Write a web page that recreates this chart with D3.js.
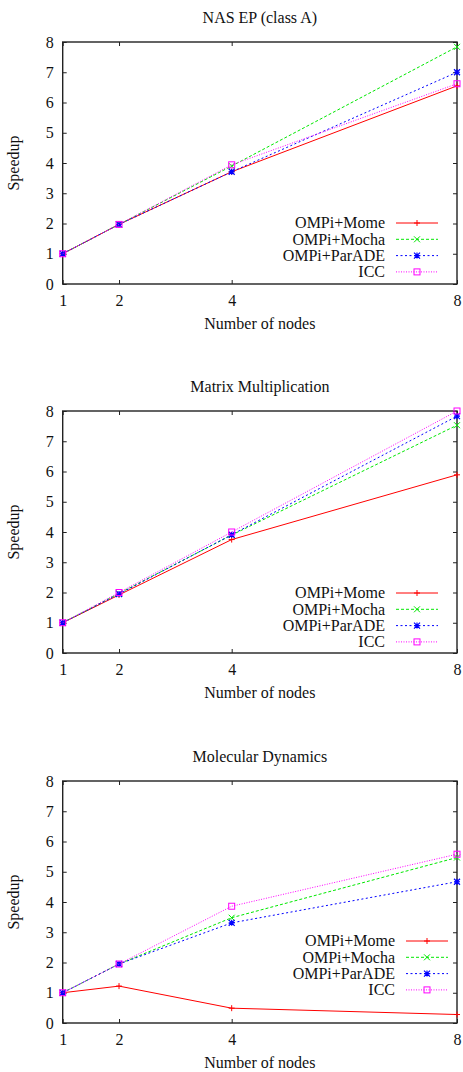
<!DOCTYPE html>
<html>
<head>
<meta charset="utf-8">
<script src="https://cdn.jsdelivr.net/npm/d3@7"></script>
<style>
  body { margin: 0; background: #fff; }
  svg text { font-family: "Liberation Serif", "Times New Roman", serif !important; fill: #111; }
</style>
</head>
<body>
<svg id="chart" width="463" height="1072"></svg>
<script>
// Données
const nodes = [1, 2, 4, 8];
const yTicks = [0, 1, 2, 3, 4, 5, 6, 7, 8];
const seriesNames = ["OMPi+Mome", "OMPi+Mocha", "OMPi+ParADE", "ICC"];
const titles = ["NAS EP (class A)", "Matrix Multiplication", "Molecular Dynamics"];

const epMome = [1, 1.97, 3.71, 6.55];
const epMocha = [1, 1.97, 3.9, 7.84];
const epParade = [1, 1.97, 3.71, 7.0];
const epIcc = [1, 1.97, 3.94, 6.62];

const mmMome = [1, 1.92, 3.75, 5.89];
const mmMocha = [1, 1.97, 3.9, 7.53];
const mmParade = [1, 1.95, 3.91, 7.83];
const mmIcc = [1, 2.0, 4.0, 8.0];

const mdMome = [1, 1.22, 0.49, 0.28];
const mdMocha = [1, 1.95, 3.48, 5.47];
const mdParade = [1, 1.95, 3.31, 4.67];
const mdIcc = [1, 1.95, 3.86, 5.58];

const panelsData = [
    [epMome, epMocha, epParade, epIcc],
    [mmMome, mmMocha, mmParade, mmIcc],
    [mdMome, mdMocha, mdParade, mdIcc]
];

// Styles des courbes (façon gnuplot)
const couleurs = ["#ff0000", "#00e800", "#0000ff", "#ff00ff"];
const tirets = [null, "3,2", "2,2.5", "1,1.5"];
const marqueurs = ["plus", "cross", "star", "square"];

const svg = d3.select("#chart")
    .attr("font-family", "Liberation Serif, Times New Roman, serif");

const left = 62.7, right = 457, plotH = 242;
const panelTops = [42, 411, 781];
// position de la légende dans chaque panneau
const legendPos = [
    { textX: 385, rowY: 181 },
    { textX: 385, rowY: 182 },
    { textX: 395, rowY: 160 }
];

const xScale = d3.scaleLinear().domain([1, 8]).range([left, right]);

function drawMarker(g, type, x, y, color) {
    const s = 3;
    if (type === "plus") {
        g.append("path").attr("d", `M${x - s},${y}H${x + s}M${x},${y - s}V${y + s}`)
            .attr("stroke", color).attr("stroke-width", 1).attr("fill", "none");
    } else if (type === "cross") {
        g.append("path").attr("d", `M${x - s},${y - s}L${x + s},${y + s}M${x - s},${y + s}L${x + s},${y - s}`)
            .attr("stroke", color).attr("stroke-width", 1).attr("fill", "none");
    } else if (type === "star") {
        g.append("path").attr("d", `M${x - s},${y}H${x + s}M${x},${y - s}V${y + s}M${x - s},${y - s}L${x + s},${y + s}M${x - s},${y + s}L${x + s},${y - s}`)
            .attr("stroke", color).attr("stroke-width", 1.2).attr("fill", "none");
    } else {
        g.append("rect").attr("x", x - s).attr("y", y - s).attr("width", 2 * s).attr("height", 2 * s)
            .attr("stroke", color).attr("stroke-width", 1).attr("fill", "none");
    }
}

function styleAxe(a) {
    a.attr("font-family", null);
    a.select(".domain").remove();
    a.selectAll("text").style("font-size", "16px").attr("fill", "#111");
    a.selectAll("line").attr("stroke", "#222");
}

panelsData.forEach((series, p) => {
    const top = panelTops[p];
    const bottom = top + plotH;
    const yScale = d3.scaleLinear().domain([0, 8]).range([bottom, top]);
    const g = svg.append("g");

    // Axe y gauche + graduations miroir à droite
    g.append("g")
        .attr("transform", `translate(${left},0)`)
        .call(d3.axisLeft(yScale).tickValues(yTicks).tickFormat(d3.format("d")).tickSize(-4).tickPadding(9))
        .call(styleAxe);

    g.append("g")
        .attr("transform", `translate(${right},0)`)
        .call(d3.axisRight(yScale).tickValues(yTicks).tickFormat("").tickSize(-4))
        .call(styleAxe);

    // Axe x bas + graduations miroir en haut
    g.append("g")
        .attr("transform", `translate(0,${bottom})`)
        .call(d3.axisBottom(xScale).tickValues(nodes).tickFormat(d3.format("d")).tickSize(-4).tickPadding(11))
        .call(styleAxe);

    g.append("g")
        .attr("transform", `translate(0,${top})`)
        .call(d3.axisTop(xScale).tickValues(nodes).tickFormat("").tickSize(-4))
        .call(styleAxe);

    // Cadre
    g.append("rect")
        .attr("x", left).attr("y", top)
        .attr("width", right - left).attr("height", plotH)
        .attr("fill", "none").attr("stroke", "#222").attr("stroke-width", 1.4);

    // Titres
    g.append("text")
        .attr("x", (left + right) / 2).attr("y", top - 19.5)
        .attr("text-anchor", "middle").style("font-size", "16px")
        .text(titles[p]);

    g.append("text")
        .attr("x", (left + right) / 2).attr("y", bottom + 45)
        .attr("text-anchor", "middle").style("font-size", "16px")
        .text("Number of nodes");

    g.append("text")
        .attr("transform", `translate(19,${(top + bottom) / 2}) rotate(-90)`)
        .attr("text-anchor", "middle").style("font-size", "16px")
        .text("Speedup");

    // Courbes
    const line = d3.line()
        .x((d, i) => xScale(nodes[i]))
        .y(d => yScale(d));

    series.forEach((vals, s) => {
        g.append("path")
            .datum(vals)
            .attr("d", line)
            .attr("fill", "none")
            .attr("stroke", couleurs[s])
            .attr("stroke-width", 1)
            .attr("stroke-dasharray", tirets[s]);

        vals.forEach((v, i) => drawMarker(g, marqueurs[s], xScale(nodes[i]), yScale(v), couleurs[s]));
    });

    // Légende
    const lp = legendPos[p];
    seriesNames.forEach((name, s) => {
        const cy = top + lp.rowY + s * 16.3;
        g.append("text")
            .attr("x", lp.textX).attr("y", cy).attr("dy", "0.34em")
            .attr("text-anchor", "end").style("font-size", "16px")
            .text(name);
        g.append("line")
            .attr("x1", lp.textX + 11).attr("x2", lp.textX + 53)
            .attr("y1", cy).attr("y2", cy)
            .attr("stroke", couleurs[s]).attr("stroke-width", 1)
            .attr("stroke-dasharray", tirets[s]);
        drawMarker(g, marqueurs[s], lp.textX + 32, cy, couleurs[s]);
    });
});
</script>
</body>
</html>
